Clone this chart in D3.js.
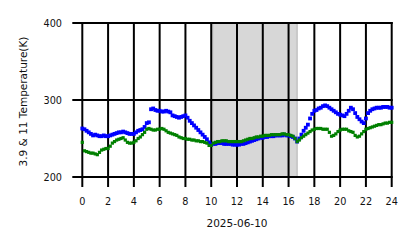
<!DOCTYPE html>
<html><head><meta charset="utf-8">
<script src="https://cdn.jsdelivr.net/npm/d3@7"></script>
<style>body{margin:0;background:#fff}svg{display:block}</style>
</head><body>
<svg id="c" width="418" height="248"></svg>
<script>
// 10-minute samples, hour 0 .. 24
const blue39 = [
263,262,260,258,256,254,
255,254,253,253,254,253,
253,254,255,256,257,258,
258,259,258,257,256,256,
256,258,260,261,262,265,
270,271,288,289,287,286,
286,285,285,286,285,284,
280,279,278,277,278,279,
280,277,273,270,267,264,
261,258,255,252,249,245,
242,243,243,244,244,244,
243,243,243,243,242,242,
242,242,243,243,244,245,
246,247,248,249,250,251,
251,252,252,253,253,253,
254,254,254,254,255,254,
254,253,252,250,246,250,
255,260,264,268,276,282,
286,287,289,290,292,293,
292,290,288,286,284,282,
281,280,279,282,286,290,
288,283,278,275,272,270,
276,283,286,288,289,290,
290,290,291,291,291,290,
290];
const green11 = [
245,234,233,232,231,231,
230,229,232,235,236,237,
237,240,244,246,248,249,
250,251,248,245,244,244,
245,247,250,252,255,258,
262,263,262,261,261,262,
262,263,262,260,258,257,
256,255,254,252,251,250,
250,249,249,248,248,247,
247,246,246,245,244,241,
241,244,245,246,246,247,
247,247,246,246,246,246,
246,246,246,247,248,249,
250,250,251,252,252,253,
253,254,254,254,255,255,
255,255,255,256,256,255,
255,254,253,250,246,248,
251,253,255,257,259,261,
262,263,263,263,262,262,
262,258,253,254,256,259,
261,262,262,262,260,259,
258,254,252,253,256,259,
262,263,264,265,266,267,
268,268,269,270,270,271,
271];
const xTicks = [0,2,4,6,8,10,12,14,16,18,20,22,24];
const yTicks = [200,300,400];
const shade = [10.1, 16.65];
const xLabel = "2025-06-10";
const yLabel = "3.9 & 11 Temperature(K)";

const svg = d3.select("#c");
const x = d3.scaleLinear().domain([0,24]).range([82.3,391.7]);
const y = d3.scaleLinear().domain([200,400]).range([177,23]);
const font = "DejaVu Sans, sans-serif";

// shaded span
svg.append("rect").attr("x", x(shade[0])).attr("y", y(400))
  .attr("width", x(shade[1]) - x(shade[0])).attr("height", y(200) - y(400))
  .attr("fill", "#d7d7d7").attr("stroke", "#c9c9c9").attr("stroke-width", 2);

// grid + ticks
const g = svg.append("g").attr("stroke", "#000").attr("stroke-width", 2);
g.selectAll(".v").data(xTicks).join("line")
  .attr("x1", d => x(d)).attr("x2", d => x(d))
  .attr("y1", y(400) - 1).attr("y2", y(200) + 10);
g.selectAll(".h").data(yTicks).join("line")
  .attr("x1", x(0) - 10).attr("x2", x(24) + 1)
  .attr("y1", d => y(d)).attr("y2", d => y(d));

// tick labels
svg.selectAll(".xt").data(xTicks).join("text")
  .attr("x", d => x(d)).attr("y", 204.5).attr("text-anchor", "middle")
  .attr("font-family", font).attr("font-size", 9.7).attr("fill", "#111")
  .text(d => d);
svg.selectAll(".yt").data(yTicks).join("text")
  .attr("x", 62).attr("y", d => y(d) + 3.5).attr("text-anchor", "end")
  .attr("font-family", font).attr("font-size", 9.7).attr("fill", "#111")
  .text(d => d);

svg.append("text").attr("x", 237).attr("y", 226.5).attr("text-anchor", "middle")
  .attr("font-family", font).attr("font-size", 10.5).attr("fill", "#111").text(xLabel);
svg.append("text").attr("transform", "translate(27,101.5) rotate(-90)")
  .attr("text-anchor", "middle")
  .attr("font-family", font).attr("font-size", 10.5).attr("fill", "#111").text(yLabel);

// series as square markers
function drawSeries(vals, color, s) {
  svg.append("g").selectAll("rect").data(vals).join("rect")
    .attr("x", (d, i) => x(i / 6) - s / 2)
    .attr("y", d => y(d) - s / 2)
    .attr("width", s).attr("height", s)
    .attr("fill", color);
}
drawSeries(blue39, "#0000ff", 3.8);
drawSeries(green11, "#008000", 3.2);
</script>
</body></html>
